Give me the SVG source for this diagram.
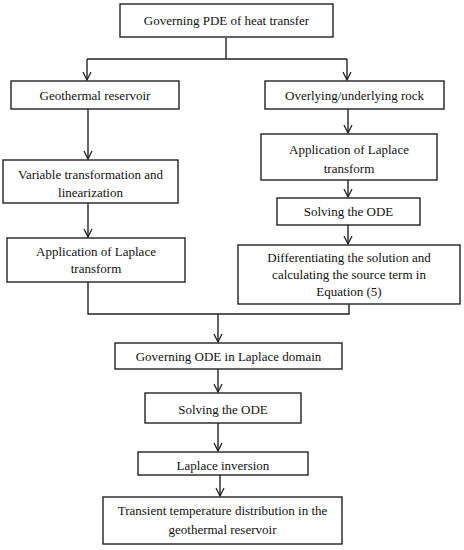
<svg xmlns="http://www.w3.org/2000/svg" width="464" height="550" viewBox="0 0 464 550">
<style>
.box{fill:#fff;stroke:#222;stroke-width:1.4}
.t{font-family:"Liberation Serif","DejaVu Serif",serif;font-size:13px;fill:#111;text-anchor:middle}
.c{fill:none;stroke:#222;stroke-width:1.4}
</style>
<defs>
<marker id="ah" markerWidth="10" markerHeight="10" viewBox="0 0 10 10" refX="9" refY="5" orient="auto" markerUnits="userSpaceOnUse">
<polyline points="1,1 9,5 1,9" fill="none" stroke="#222" stroke-width="1.3"/>
</marker>
</defs>
<rect width="464" height="550" fill="#fff"/>
<g id="connectors">
<polyline class="c" points="226,38 226,59"/>
<polyline class="c" points="87,59 347,59"/>
<polyline class="c" points="87,59 87,80" marker-end="url(#ah)"/>
<polyline class="c" points="347,59 347,80" marker-end="url(#ah)"/>
<polyline class="c" points="88,109 88,159" marker-end="url(#ah)"/>
<polyline class="c" points="88,203 88,237" marker-end="url(#ah)"/>
<polyline class="c" points="348,109 348,133" marker-end="url(#ah)"/>
<polyline class="c" points="348,180 348,197" marker-end="url(#ah)"/>
<polyline class="c" points="348,225 348,244" marker-end="url(#ah)"/>
<polyline class="c" points="88,282 88,314 349,314 349,304"/>
<polyline class="c" points="218,314 218,342" marker-end="url(#ah)"/>
<polyline class="c" points="218,369 218,392" marker-end="url(#ah)"/>
<polyline class="c" points="218,423 218,451" marker-end="url(#ah)"/>
<polyline class="c" points="220,475 220,496" marker-end="url(#ah)"/>
</g>
<g id="n1"><rect class="box" x="120" y="4" width="213" height="33"/><text class="t" x="226.5" y="25">Governing PDE of heat transfer</text></g>
<g id="n2"><rect class="box" x="11" y="81" width="168" height="28"/><text class="t" x="95" y="100">Geothermal reservoir</text></g>
<g id="n3"><rect class="box" x="265" y="81" width="179" height="28"/><text class="t" x="354.5" y="100">Overlying/underlying rock</text></g>
<g id="n4"><rect class="box" x="3" y="160" width="175" height="43"/><text class="t" x="90.5" y="179">Variable transformation and</text><text class="t" x="90.5" y="197">linearization</text></g>
<g id="n5"><rect class="box" x="7" y="238" width="178" height="44"/><text class="t" x="96" y="256">Application of Laplace</text><text class="t" x="96" y="273">transform</text></g>
<g id="n6"><rect class="box" x="261" y="134" width="176" height="46"/><text class="t" x="349" y="154">Application of Laplace</text><text class="t" x="349" y="173">transform</text></g>
<g id="n7"><rect class="box" x="277" y="198" width="143" height="27"/><text class="t" x="348.5" y="216">Solving the ODE</text></g>
<g id="n8"><rect class="box" x="238" y="245" width="222" height="59"/><text class="t" x="349" y="262">Differentiating the solution and</text><text class="t" x="349" y="279">calculating the source term in</text><text class="t" x="349" y="296">Equation (5)</text></g>
<g id="n9"><rect class="box" x="115" y="343" width="227" height="26"/><text class="t" x="228.5" y="361">Governing ODE in Laplace domain</text></g>
<g id="n10"><rect class="box" x="145" y="393" width="156" height="30"/><text class="t" x="223" y="414">Solving the ODE</text></g>
<g id="n11"><rect class="box" x="138" y="452" width="170" height="23"/><text class="t" x="223" y="470">Laplace inversion</text></g>
<g id="n12"><rect class="box" x="103" y="497" width="239" height="47"/><text class="t" x="222.5" y="515">Transient temperature distribution in the</text><text class="t" x="222.5" y="534">geothermal reservoir</text></g>
</svg>
